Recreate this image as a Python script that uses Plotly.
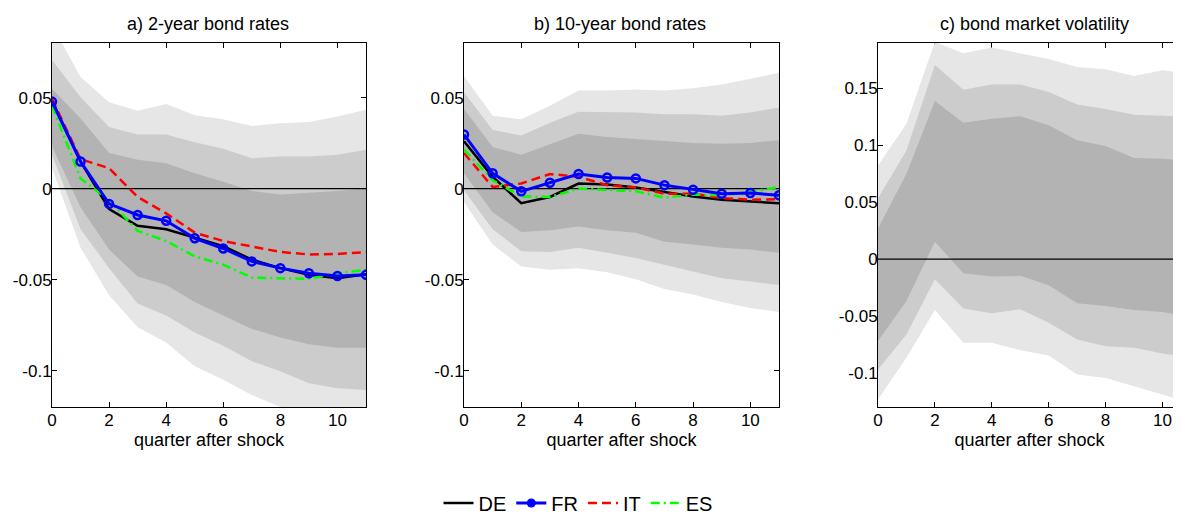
import plotly.graph_objects as go

# The page body has an 8px margin, so the figure is sized to the visible area
OFF = 8
W, H = 1181 - OFF, 516 - OFF
x = list(range(12))

# ---------- panel a: 2-year bond rates ----------
a_outer_up = [0.090, 0.0613, 0.0474, 0.0428, 0.0465, 0.0403, 0.0381, 0.0344, 0.0359, 0.0366, 0.0396, 0.0433]
a_mid_up   = [0.0706, 0.0502, 0.0338, 0.0297, 0.0297, 0.0255, 0.0219, 0.0167, 0.0177, 0.0177, 0.0186, 0.0214]
a_in_up    = [0.0548, 0.0385, 0.0195, 0.0158, 0.0139, 0.0084, 0.0037, -0.0013, -0.0032, -0.0024, -0.0013, 0.0]
a_in_lo    = [0.0232, -0.0102, -0.0335, -0.0483, -0.0530, -0.0623, -0.0697, -0.0771, -0.0818, -0.0855, -0.0874, -0.0874]
a_mid_lo   = [0.0186, -0.0223, -0.0437, -0.0632, -0.0697, -0.0790, -0.0864, -0.0948, -0.1004, -0.1069, -0.1097, -0.1106]
a_outer_lo = [0.0112, -0.0325, -0.0586, -0.0762, -0.0846, -0.0976, -0.1050, -0.1134, -0.1200, -0.1240, -0.1290, -0.1330]
a_DE = [0.0483, 0.0149, -0.0112, -0.0204, -0.0223, -0.0270, -0.0316, -0.0390, -0.0437, -0.0474, -0.0493, -0.0470]
a_FR = [0.0478, 0.0149, -0.0084, -0.0145, -0.0177, -0.0273, -0.0329, -0.0400, -0.0437, -0.0465, -0.0480, -0.0474]
a_IT = [0.0493, 0.0162, 0.0112, -0.0046, -0.0136, -0.0242, -0.0288, -0.0320, -0.0348, -0.0362, -0.0359, -0.0349]
a_ES = [0.0455, 0.0056, -0.0065, -0.0232, -0.0288, -0.0372, -0.0418, -0.0489, -0.0493, -0.0496, -0.0465, -0.0446]

# ---------- panel b: 10-year bond rates ----------
b_outer_up = [0.0619, 0.0400, 0.0381, 0.0455, 0.0539, 0.0539, 0.0545, 0.0539, 0.0552, 0.0572, 0.0604, 0.0636]
b_mid_up   = [0.0530, 0.0322, 0.0292, 0.0362, 0.0422, 0.0422, 0.0418, 0.0409, 0.0409, 0.0400, 0.0418, 0.0446]
b_in_up    = [0.0437, 0.0229, 0.0186, 0.0242, 0.0301, 0.0284, 0.0273, 0.0260, 0.0251, 0.0247, 0.0251, 0.0266]
b_in_lo    = [0.0084, -0.0130, -0.0238, -0.0229, -0.0208, -0.0229, -0.0242, -0.0292, -0.0307, -0.0325, -0.0335, -0.0353]
b_mid_lo   = [-0.0009, -0.0223, -0.0344, -0.0348, -0.0325, -0.0353, -0.0381, -0.0418, -0.0455, -0.0493, -0.0511, -0.0530]
b_outer_lo = [-0.0074, -0.0307, -0.0428, -0.0446, -0.0437, -0.0459, -0.0498, -0.0552, -0.0582, -0.0623, -0.0656, -0.0678]
b_DE = [0.0260, 0.0065, -0.0080, -0.0046, 0.0028, 0.0022, 0.0006, -0.0019, -0.0043, -0.0061, -0.0071, -0.0080]
b_FR = [0.0297, 0.0084, -0.0015, 0.0032, 0.0080, 0.0061, 0.0056, 0.0019, -0.0006, -0.0028, -0.0024, -0.0037]
b_IT = [0.0195, 0.0009, 0.0028, 0.0080, 0.0065, 0.0019, 0.0006, -0.0028, -0.0028, -0.0052, -0.0061, -0.0058]
b_ES = [0.0214, 0.0046, -0.0043, -0.0046, 0.0000, -0.0009, -0.0015, -0.0050, -0.0033, -0.0037, -0.0019, 0.0009]

# ---------- panel c: bond market volatility ----------
c_outer_up = [0.0824, 0.119, 0.191, 0.181, 0.186, 0.181, 0.176, 0.169, 0.167, 0.161, 0.166, 0.163]
c_mid_up   = [0.0535, 0.0956, 0.1706, 0.149, 0.1535, 0.1535, 0.147, 0.136, 0.132, 0.127, 0.126, 0.125]
c_in_up    = [0.027, 0.075, 0.139, 0.120, 0.1235, 0.1256, 0.1176, 0.1044, 0.0994, 0.0888, 0.0882, 0.0868]
c_in_lo    = [-0.072, -0.0368, 0.0153, -0.0124, -0.0153, -0.0147, -0.0229, -0.0388, -0.0412, -0.0447, -0.0465, -0.0506]
c_mid_lo   = [-0.097, -0.0662, -0.0176, -0.0435, -0.0476, -0.0441, -0.0559, -0.0706, -0.0765, -0.0779, -0.0829, -0.0868]
c_outer_lo = [-0.1235, -0.0868, -0.0447, -0.0735, -0.0735, -0.080, -0.0847, -0.1015, -0.1044, -0.1118, -0.1191, -0.1265]

titles = ["a) 2-year bond rates", "b) 10-year bond rates", "c) bond market volatility"]
series_names = ["DE", "FR", "IT", "ES"]
xtick_vals = [0, 2, 4, 6, 8, 10]
ab_ytick_vals = [-0.1, -0.05, 0, 0.05]
ab_ytick_text = ["-0.1", "-0.05", "0", "0.05"]
c_ytick_vals = [-0.1, -0.05, 0, 0.05, 0.1, 0.15]
c_ytick_text = ["-0.1", "-0.05", "0", "0.05", "0.1", "0.15"]

C_OUT, C_MID, C_IN = "#e6e6e6", "#cccccc", "#b3b3b3"
COLORS = {"DE": "black", "FR": "#0000ff", "IT": "#ff0000", "ES": "#00ff00"}
FONT = "Liberation Sans, Arial, sans-serif"

fig = go.Figure()

def bands(xa, ya, outer_up, mid_up, in_up, in_lo, mid_lo, outer_lo):
    for up, lo, col in [(outer_up, outer_lo, C_OUT), (mid_up, mid_lo, C_MID), (in_up, in_lo, C_IN)]:
        fig.add_trace(go.Scatter(x=x + x[::-1], y=up + lo[::-1], fill="toself",
                                 fillcolor=col, line=dict(width=0), mode="lines",
                                 hoverinfo="skip", showlegend=False, xaxis=xa, yaxis=ya))
    fig.add_trace(go.Scatter(x=[-1, 12], y=[0, 0], mode="lines", line=dict(color="black", width=1.2),
                             showlegend=False, hoverinfo="skip", xaxis=xa, yaxis=ya))

def lines(xa, ya, DE, FR, IT, ES, show):
    fig.add_trace(go.Scatter(x=x, y=DE, mode="lines", name="DE", legendrank=1,
                             line=dict(color=COLORS["DE"], width=2.5),
                             showlegend=show, xaxis=xa, yaxis=ya))
    fig.add_trace(go.Scatter(x=x, y=IT, mode="lines", name="IT", legendrank=3,
                             line=dict(color=COLORS["IT"], width=2.5, dash="9px,5px"),
                             showlegend=show, xaxis=xa, yaxis=ya))
    fig.add_trace(go.Scatter(x=x, y=ES, mode="lines", name="ES", legendrank=4,
                             line=dict(color=COLORS["ES"], width=2.5, dash="9px,4px,2px,4px"),
                             showlegend=show, xaxis=xa, yaxis=ya))
    fig.add_trace(go.Scatter(x=x, y=FR, mode="lines+markers", name="FR",
                             line=dict(color=COLORS["FR"], width=3),
                             marker=dict(symbol="circle-open", size=8, color=COLORS["FR"], line=dict(width=2.5)),
                             showlegend=False, xaxis=xa, yaxis=ya))

bands("x", "y", a_outer_up, a_mid_up, a_in_up, a_in_lo, a_mid_lo, a_outer_lo)
lines("x", "y", a_DE, a_FR, a_IT, a_ES, True)
bands("x2", "y2", b_outer_up, b_mid_up, b_in_up, b_in_lo, b_mid_lo, b_outer_lo)
lines("x2", "y2", b_DE, b_FR, b_IT, b_ES, False)
bands("x3", "y3", c_outer_up, c_mid_up, c_in_up, c_in_lo, c_mid_lo, c_outer_lo)

# legend entry for FR (filled marker as in the reference legend)
fig.add_trace(go.Scatter(x=[None], y=[None], mode="lines+markers", name="FR", legendrank=2,
                         line=dict(color=COLORS["FR"], width=3),
                         marker=dict(symbol="circle", size=9, color=COLORS["FR"]),
                         showlegend=True, xaxis="x", yaxis="y"))

def px_x(p):
    return (p - OFF) / W

def px_y(p):
    return (H - (p - OFF)) / H

y0, y1 = px_y(407), px_y(43)
doms = [(px_x(52), px_x(366)), (px_x(464), px_x(779)), (px_x(878), 1.0)]
xranges = [[0, 11], [0, 11], [0, (1181 - 878) / 28.45]]

axis_common = dict(showline=True, linecolor="black", linewidth=1, mirror="ticks", ticks="inside",
                   ticklen=5, tickcolor="black", showgrid=False, zeroline=False, automargin=False,
                   tickfont=dict(family=FONT, size=17, color="black"), layer="below traces")

lay = dict(width=W, height=H, margin=dict(l=0, r=0, t=0, b=0, autoexpand=False), plot_bgcolor="white",
           paper_bgcolor="white", font=dict(family=FONT, color="black"))
for i in range(3):
    s = "" if i == 0 else str(i + 1)
    lay["xaxis" + s] = dict(domain=list(doms[i]), range=xranges[i], tickvals=xtick_vals,
                            anchor="y" + s, ticklabelstandoff=-2,
                            title=dict(text="quarter after shock", font=dict(family=FONT, size=18), standoff=0),
                            **axis_common)
    if i < 2:
        lay["yaxis" + s] = dict(domain=[y0, y1], range=[-0.12, 0.08], tickvals=ab_ytick_vals,
                                ticktext=ab_ytick_text, anchor="x" + s, ticklabelstandoff=-4,
                                **axis_common)
    else:
        lay["yaxis" + s] = dict(domain=[y0, y1], range=[-0.13, 0.19], tickvals=c_ytick_vals,
                                ticktext=c_ytick_text, anchor="x" + s, ticklabelstandoff=-4,
                                **axis_common)
fig.update_layout(**lay)

centers = [208, 620, 1034]
for t, cx in zip(titles, centers):
    fig.add_annotation(text=t, x=px_x(cx), y=px_y(24), xref="paper", yref="paper",
                       showarrow=False, xanchor="center", yanchor="middle",
                       font=dict(family=FONT, size=18, color="black"))

fig.update_layout(legend=dict(orientation="h", x=px_x(578), xanchor="center", y=px_y(503),
                              yanchor="middle", font=dict(family=FONT, size=20, color="black"),
                              traceorder="normal", itemwidth=30, tracegroupgap=0,
                              bgcolor="rgba(0,0,0,0)"))

fig.write_html("out.html")
